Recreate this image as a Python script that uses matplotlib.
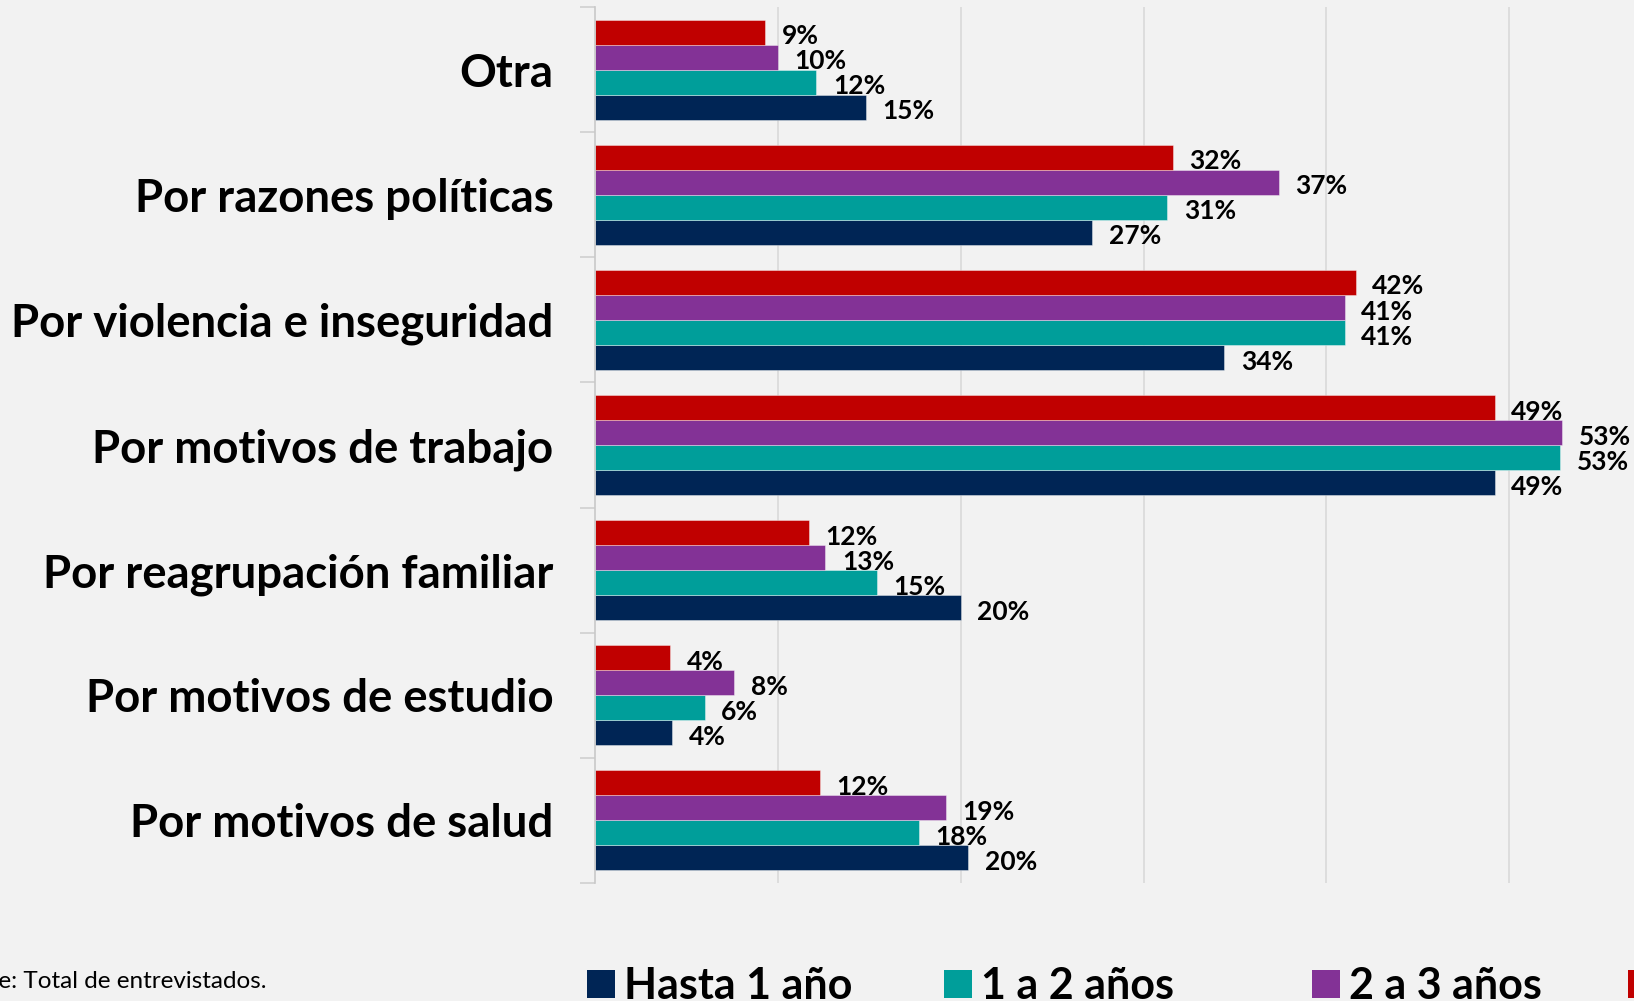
import matplotlib
matplotlib.use('Agg')
import matplotlib.pyplot as plt
import numpy as np
from matplotlib.patches import Patch

# categories, top to bottom
categories = ['Otra', 'Por razones políticas', 'Por violencia e inseguridad',
              'Por motivos de trabajo', 'Por reagrupación familiar',
              'Por motivos de estudio', 'Por motivos de salud']

# percentages per residence time
hasta_1 = [14.8, 27.2, 34.4, 49.2, 20.0, 4.2, 20.4]
de_1_a_2 = [12.1, 31.3, 41.0, 52.8, 15.4, 6.0, 17.7]
de_2_a_3 = [10.0, 37.4, 41.0, 52.9, 12.6, 7.6, 19.2]
mas_de_3 = [9.3, 31.6, 41.6, 49.2, 11.7, 4.1, 12.3]

series_names = ['Hasta 1 año', '1 a 2 años', '2 a 3 años', 'Más de 3 años']
series_colors = ['#002555', '#009E9A', '#833296', '#C00000']
series = [hasta_1, de_1_a_2, de_2_a_3, mas_de_3]

plt.rcParams['font.family'] = ['Lato', 'DejaVu Sans']
bg = '#F2F2F2'

W, H = 1634, 1001
fig = plt.figure(figsize=(W / 100, H / 100), dpi=100, facecolor=bg)
ax = fig.add_axes([595 / W, 1 - 883 / H, 1097 / W, 876 / H], facecolor=bg)

y = np.arange(len(categories))
bar_h = 0.2
offsets = [0.3, 0.1, -0.1, -0.3]
for vals, col, off in zip(series, series_colors, offsets):
    bars = ax.barh(y + off, vals, height=bar_h, color=col,
                   edgecolor=(1, 1, 1, 0.45), linewidth=0.6, zorder=3)
    for b, v in zip(bars, vals):
        ax.annotate(f'{v:.0f}%', (b.get_width(), b.get_y() + b.get_height() / 2),
                    xytext=(12, -3), textcoords='offset points',
                    ha='left', va='center', fontsize=19, fontweight='bold',
                    color='black', zorder=4)

ax.set_xlim(0, 60)
ax.set_ylim(len(categories) - 0.5, -0.5)
ax.set_xticks(np.arange(10, 61, 10))
ax.tick_params(axis='x', length=0, labelbottom=False)
ax.grid(axis='x', color='#D9D9D9', linewidth=1.2, zorder=0)

ax.set_yticks(y)
ax.set_yticklabels(categories, fontsize=32.8, fontweight='bold')
ax.tick_params(axis='y', which='major', length=0, pad=30)
ax.set_yticks(np.arange(-0.5, len(categories)), minor=True)
ax.tick_params(axis='y', which='minor', length=11, color='#D0D0D0', width=1.2)

for s in ['top', 'right', 'bottom']:
    ax.spines[s].set_visible(False)
ax.spines['left'].set_color('#C8C8C8')
ax.spines['left'].set_linewidth(1.2)
ax.spines['left'].set_zorder(5)

# legend, one entry per box so the spacing follows the original
legend_x = [587 / W, 944 / W, 1312 / W, 1628 / W]
for name, col, lx in zip(series_names, series_colors, legend_x):
    fig.legend(handles=[Patch(facecolor=col, edgecolor='none')], labels=[name],
               loc='center left', bbox_to_anchor=(lx, 1 - 986 / H),
               frameon=False, prop={'weight': 'bold', 'size': 31},
               handlelength=0.65, handleheight=0.65, handletextpad=0.2,
               borderpad=0, borderaxespad=0)

fig.text(266 / W, 1 - 982 / H, 'Fuente: Total de entrevistados.',
         ha='right', va='center', fontsize=17.5, color='black')

fig.savefig('out.png', dpi=100, facecolor=bg)
